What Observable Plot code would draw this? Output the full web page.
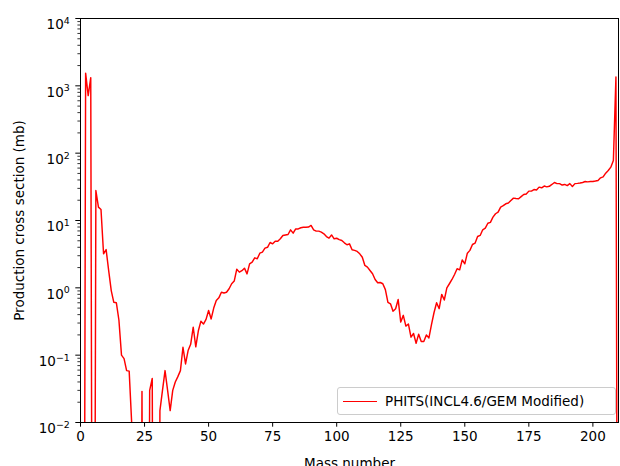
<!DOCTYPE html>
<html>
<head>
<meta charset="utf-8">
<script src="https://cdn.jsdelivr.net/npm/d3@7"></script>
<script src="https://cdn.jsdelivr.net/npm/@observablehq/plot@0.6"></script>
<style>
  html, body { margin: 0; padding: 0; background: #ffffff; }
  #wrap { position: relative; width: 620px; height: 466px; overflow: hidden; font-family: "DejaVu Sans", sans-serif; }
  #wrap svg { display: block; }
  #legend { position: absolute; left: 337px; top: 387px; width: 279px; height: 28px; box-sizing: border-box;
            border: 1px solid #cccccc; border-radius: 3px; background: rgba(255,255,255,0.8); }
  #legend .swatch { position: absolute; left: 5px; top: 12.5px; width: 34px; height: 1.5px; background: #ff0000; }
  #legend .label { position: absolute; left: 47px; top: 4px; font-size: 13.5px; line-height: 18px; color: #000; white-space: nowrap; }
</style>
</head>
<body>
<div id="wrap"></div>
<script>
// ---- data ----
const seriesName = "PHITS(INCL4.6/GEM Modified)";
const startMass = 1; // first mass number in crossSection
// production cross section (mb) for mass numbers 1..210 (0 = not produced)
const crossSection = [
  0, 1540, 716, 1320, 0, 27.9, 15.8, 14.6, 3.2, 3.7,
  1.8, 0.91, 0.61, 0.60, 0.33, 0.1, 0.089, 0.059, 0.058, 0.0095,
  0, 0, 0, 0.029, 0, 0, 0.03, 0.045, 0, 0,
  0.015, 0.03, 0.059, 0.03, 0.015, 0.03, 0.04, 0.048, 0.059, 0.131,
  0.074, 0.117, 0.145, 0.26, 0.133, 0.23, 0.32, 0.29, 0.34, 0.46,
  0.345, 0.50, 0.65, 0.71, 0.86, 0.84, 0.86, 0.97, 1.15, 1.26,
  1.89, 1.71, 1.8, 1.96, 1.61, 2.27, 2.41, 2.79, 2.7, 3.27,
  3.4, 3.88, 4.0, 4.71, 4.5, 4.93, 4.93, 5.35, 5.99, 6.1,
  6.2, 7.27, 6.49, 7.5, 7.5, 7.8, 7.96, 7.96, 8.0, 8.43,
  7.27, 6.95, 6.95, 6.71, 6.34, 5.78, 5.47, 6.1, 5.35, 5.45,
  5.2, 5.05, 4.66, 4.36, 4.5, 3.67, 3.6, 3.47, 3.2, 2.85,
  2.15, 2.03, 1.81, 1.62, 1.33, 1.19, 1.2, 1.15, 0.94, 0.61,
  0.58, 0.45, 0.49, 0.67, 0.31, 0.39, 0.27, 0.29, 0.185, 0.21,
  0.15, 0.205, 0.16, 0.16, 0.2, 0.18, 0.285, 0.43, 0.6, 0.49,
  0.80, 0.66, 1.0, 1.15, 1.33, 1.58, 1.92, 1.85, 2.6, 2.27,
  3.27, 3.6, 4.4, 4.6, 5.78, 6.0, 7.27, 7.7, 9.1, 9.4,
  11.2, 12.6, 13.3, 15.8, 16.6, 17.7, 18.2, 19.8, 21.5, 21.2,
  21, 22.6, 24.3, 24.8, 27.3, 27.3, 28.8, 28.3, 31.3, 30.6,
  32.5, 31.6, 32.2, 34.3, 36.7, 35.3, 35.3, 33.6, 34.3, 33,
  35.3, 32, 35.3, 35.6, 36, 36.7, 37.9, 37.5, 37.9, 37.9,
  38.5, 39.3, 43, 44.5, 50.5, 55.3, 62, 78, 1350, 0
];
const xTicks = [0, 25, 50, 75, 100, 125, 150, 175, 200];
const yExponents = [-2, -1, 0, 1, 2, 3, 4];
const xLabel = "Mass number";
const yLabel = "Production cross section (mb)";

// ---- build ----
const rows = crossSection.map((v, i) => ({mass: startMass + i, xs: v}));
const yMajor = yExponents.map(e => Math.pow(10, e));
const yMinor = [];
for (const e of yExponents.slice(0, -1)) for (let m = 2; m <= 9; m++) yMinor.push(m * Math.pow(10, e));

const plot = Plot.plot({
  width: 620,
  height: 466,
  marginLeft: 80,
  marginRight: 2,
  marginTop: 18,
  marginBottom: 44,
  style: {fontFamily: "DejaVu Sans, sans-serif", fontSize: "13.5px", color: "#000", background: "#fff"},
  x: {domain: [0, 210], label: null},
  y: {type: "log", domain: [1e-2, 1e4], label: null},
  marks: [
    Plot.line(rows, {
      x: "mass",
      y: d => (d.xs > 0 ? d.xs : 1e-12), // zero values drop off the bottom, as in the original
      stroke: "#ff0000",
      strokeWidth: 1.45,
      clip: true
    }),
    Plot.frame({stroke: "#000", strokeWidth: 1}),
    Plot.axisX({ticks: xTicks, tickSize: 4.7, tickPadding: 4.2, fontSize: 13.5, label: null, strokeWidth: 1}),
    Plot.axisY({ticks: yMinor, tickSize: 2.6, tickFormat: () => "", label: null, strokeWidth: 0.8}),
    Plot.axisY({ticks: yMajor, tickSize: 4.7, tickPadding: 6, fontSize: 13.5, label: null, strokeWidth: 1,
                tickFormat: d => "10^" + Math.round(Math.log10(d))}),
    Plot.text([xLabel], {frameAnchor: "bottom", dy: 36, lineAnchor: "top", textAnchor: "middle", fontSize: 13.5}),
    Plot.text([yLabel], {frameAnchor: "left", dx: -61, rotate: -90, textAnchor: "middle", lineAnchor: "middle", fontSize: 13.5})
  ]
});

// superscript exponents on y tick labels
plot.querySelectorAll('g[aria-label="y-axis tick label"] text').forEach(t => {
  const s = t.textContent;
  if (!s.includes("^")) return;
  const [b, e] = s.split("^");
  t.textContent = b;
  t.setAttribute("dy", "0.47em");
  const ts = document.createElementNS("http://www.w3.org/2000/svg", "tspan");
  ts.setAttribute("dy", "-0.55em");
  ts.setAttribute("font-size", "0.7em");
  ts.textContent = e.replace("-", "\u2212");
  t.appendChild(ts);
});

const wrap = document.getElementById("wrap");
wrap.appendChild(plot);

// legend
const legend = document.createElement("div");
legend.id = "legend";
legend.innerHTML = '<div class="swatch"></div><div class="label"></div>';
legend.querySelector(".label").textContent = seriesName;
wrap.appendChild(legend);
</script>
</body>
</html>
